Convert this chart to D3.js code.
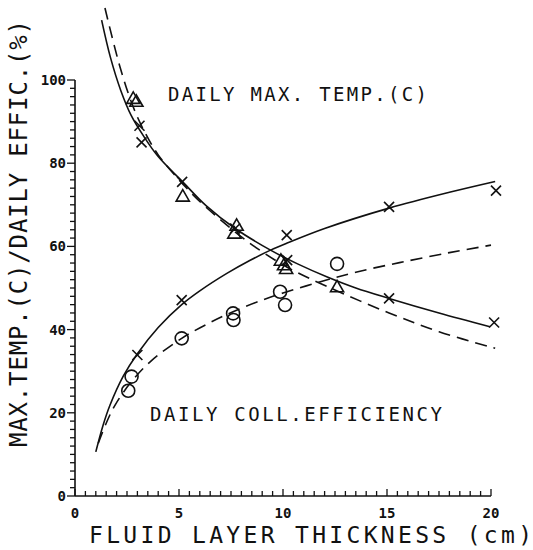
<!DOCTYPE html>
<html><head><meta charset="utf-8">
<script src="https://cdn.jsdelivr.net/npm/d3@7"></script>
<style>body{margin:0;background:#fff}svg{display:block}</style>
</head><body>
<script>
// ---- data ----
const xTicks = [0, 5, 10, 15, 20];
const yTicks = [0, 20, 40, 60, 80, 100];

// Daily max temperature (C)
const tempCrossX = [3.1, 3.2, 5.15, 7.7, 10.2, 15.1, 20.15];
const tempCrossY = [89, 85, 75.5, 64.3, 56.7, 47.5, 41.7];
const tempTriX = [2.8, 2.95, 5.18, 7.77, 7.66, 9.9, 10.05, 10.15, 12.6];
const tempTriY = [95.3, 94.6, 71.8, 64.8, 62.9, 56.4, 55.3, 54.4, 50.0];

// Daily collector efficiency (%)
const effCrossX = [3.0, 5.13, 10.18, 15.1, 20.24];
const effCrossY = [33.9, 47.1, 62.7, 69.5, 73.4];
const effCircX = [2.56, 2.72, 5.13, 7.6, 7.62, 9.86, 10.1, 12.6];
const effCircY = [25.3, 28.7, 37.9, 43.9, 42.3, 49.1, 45.9, 55.8];

// fitted curves
const tempSolidX = [1.28, 1.7, 2.2, 2.7, 3.3, 4.0, 5.2, 6.3, 7.7, 9.4, 10.7, 12.1, 13.5, 15.1, 17.5, 19.95];
const tempSolidY = [114.4, 105.5, 97.5, 91.5, 86.5, 81.6, 75.4, 69.8, 64.3, 59.1, 55.8, 52.7, 50.0, 47.5, 44.0, 40.7];
const tempDashX = [1.44, 2.16, 2.8, 3.37, 4.0, 5.0, 6.0, 7.0, 8.0, 9.0, 10.2, 12.1, 15.1, 17.5, 20.2];
const tempDashY = [117.3, 103.2, 93.5, 87.3, 82.0, 76.0, 70.8, 66.4, 62.3, 58.7, 55.0, 50.4, 44.0, 39.5, 35.5];
const effSolidX = [1.0, 1.35, 1.68, 2.32, 3.0, 4.0, 5.13, 6.0, 7.3, 8.4, 9.4, 10.2, 12.0, 15.1, 18.0, 20.2];
const effSolidY = [10.6, 17.0, 21.8, 28.8, 34.2, 40.5, 46.0, 49.3, 53.5, 56.6, 59.1, 60.8, 64.3, 69.2, 73.0, 75.6];
const effDashX = [1.12, 1.5, 1.92, 2.7, 3.6, 5.13, 6.5, 7.6, 9.0, 10.0, 11.8, 13.5, 15.6, 18.0, 20.0];
const effDashY = [12.7, 17.5, 21.8, 27.4, 32.2, 37.9, 41.7, 44.3, 47.1, 48.8, 51.5, 53.8, 56.1, 58.5, 60.3];

const xTitle = "FLUID LAYER THICKNESS (cm)";
const yTitle = "MAX.TEMP.(C)/DAILY EFFIC.(%)";
const label1 = "DAILY MAX. TEMP.(C)";
const label2 = "DAILY COLL.EFFICIENCY";

// ---- drawing ----
const W = 533, H = 550;
const svg = d3.select("body").append("svg").attr("width", W).attr("height", H);
const x = d3.scaleLinear().domain([0, 20]).range([75, 491]);
const y = d3.scaleLinear().domain([0, 100]).range([496, 80]);
const ink = "#111";
const font = "'DejaVu Sans Mono', monospace";

// y axis
const ya = svg.append("g");
ya.append("line").attr("x1", x(0)).attr("x2", x(0)).attr("y1", y(0)).attr("y2", y(100))
  .attr("stroke", ink).attr("stroke-width", 1.6);
ya.selectAll(".ym").data(d3.range(0, 101, 2)).join("line")
  .attr("x1", x(0)).attr("x2", d => x(0) - (d % 20 === 0 ? 8 : 5))
  .attr("y1", d => y(d)).attr("y2", d => y(d)).attr("stroke", ink).attr("stroke-width", 1.3);
ya.selectAll("text").data(yTicks).join("text")
  .attr("x", x(0) - 9).attr("y", d => y(d) + 5).attr("text-anchor", "end")
  .attr("font-family", font).attr("font-size", 14).attr("font-weight", "bold").attr("fill", ink)
  .text(d => d);

// x axis
const xa = svg.append("g");
xa.append("line").attr("x1", x(0)).attr("x2", x(20)).attr("y1", y(0)).attr("y2", y(0))
  .attr("stroke", ink).attr("stroke-width", 1.6);
xa.selectAll(".xm").data(d3.range(0, 20.01, 0.5)).join("line")
  .attr("x1", d => x(d)).attr("x2", d => x(d))
  .attr("y1", y(0)).attr("y2", d => y(0) - (d % 5 === 0 ? 7 : 5)).attr("stroke", ink).attr("stroke-width", 1.3);
xa.selectAll("text").data(xTicks).join("text")
  .attr("x", d => x(d)).attr("y", y(0) + 22).attr("text-anchor", "middle")
  .attr("font-family", font).attr("font-size", 14).attr("font-weight", "bold").attr("fill", ink)
  .text(d => d);

// titles
svg.append("text").attr("x", 89).attr("y", 543).attr("font-family", font).attr("font-size", 23)
  .attr("fill", ink).attr("textLength", 443).attr("lengthAdjust", "spacing").text(xTitle);
svg.append("text").attr("transform", "translate(27,447) rotate(-90)")
  .attr("font-family", font).attr("font-size", 24).attr("fill", ink)
  .attr("textLength", 427).attr("lengthAdjust", "spacing").text(yTitle);
svg.append("text").attr("x", 168).attr("y", 101).attr("font-family", font).attr("font-size", 19)
  .attr("fill", ink).attr("textLength", 259).attr("lengthAdjust", "spacing").text(label1);
svg.append("text").attr("x", 150).attr("y", 421).attr("font-family", font).attr("font-size", 19)
  .attr("fill", ink).attr("textLength", 292).attr("lengthAdjust", "spacing").text(label2);

// curves
const line = d3.line().x(d => x(d[0])).y(d => y(d[1])).curve(d3.curveCatmullRom.alpha(0.5));
function curve(xs, ys, dashed) {
  svg.append("path").datum(xs.map((v, i) => [v, ys[i]])).attr("d", line)
    .attr("fill", "none").attr("stroke", ink).attr("stroke-width", 1.6)
    .attr("stroke-dasharray", dashed ? "12,7" : null);
}
curve(tempSolidX, tempSolidY, false);
curve(tempDashX, tempDashY, true);
curve(effSolidX, effSolidY, false);
curve(effDashX, effDashY, true);

// markers
function crosses(xs, ys) {
  const s = 5;
  const g = svg.append("g").attr("stroke", ink).attr("stroke-width", 1.6);
  xs.forEach((v, i) => {
    const cx = x(v), cy = y(ys[i]);
    g.append("line").attr("x1", cx - s).attr("y1", cy - s).attr("x2", cx + s).attr("y2", cy + s);
    g.append("line").attr("x1", cx - s).attr("y1", cy + s).attr("x2", cx + s).attr("y2", cy - s);
  });
}
function circles(xs, ys) {
  svg.append("g").selectAll("circle").data(xs.map((v, i) => [v, ys[i]])).join("circle")
    .attr("cx", d => x(d[0])).attr("cy", d => y(d[1])).attr("r", 6.5)
    .attr("fill", "none").attr("stroke", ink).attr("stroke-width", 1.6);
}
function triangles(xs, ys) {
  const sym = d3.symbol().type(d3.symbolTriangle).size(75);
  svg.append("g").selectAll("path").data(xs.map((v, i) => [v, ys[i]])).join("path")
    .attr("d", sym).attr("transform", d => `translate(${x(d[0])},${y(d[1])})`)
    .attr("fill", "none").attr("stroke", ink).attr("stroke-width", 1.6);
}
crosses(tempCrossX, tempCrossY);
triangles(tempTriX, tempTriY);
crosses(effCrossX, effCrossY);
circles(effCircX, effCircY);
</script>
</body></html>
